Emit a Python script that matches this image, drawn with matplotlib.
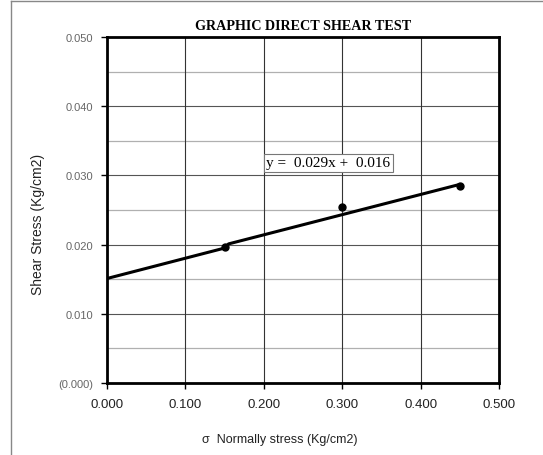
import matplotlib
matplotlib.use('Agg')
import matplotlib.pyplot as plt
from matplotlib.lines import Line2D
from matplotlib.ticker import MultipleLocator, FuncFormatter

# measured points
normal_stress = [0.15, 0.30, 0.45]
shear_stress = [0.0197, 0.0255, 0.0284]

# drawn line (with the small jog near the first point)
line_x = [0.0, 0.150, 0.155, 0.45]
line_y = [0.0151, 0.0195, 0.0201, 0.0287]

equation = 'y =  0.029x +  0.016'

fig = plt.figure(figsize=(5.43, 4.56), dpi=100)
ax = fig.add_axes([107/543, 1 - 384/456, 392/543, 346/456])

# grid
for yv in [0.005, 0.015, 0.025, 0.035, 0.045]:
    ax.axhline(yv, color='#b0b0b0', lw=0.9, zorder=1)
for yv in [0.01, 0.02, 0.03, 0.04]:
    ax.axhline(yv, color='#555555', lw=0.8, zorder=1)
for xv in [0.1, 0.2, 0.3, 0.4]:
    ax.axvline(xv, color='#333333', lw=0.8, zorder=1)

ax.plot(line_x, line_y, color='black', lw=2.2, zorder=3, solid_capstyle='round')
ax.plot(normal_stress, shear_stress, 'o', color='black', ms=5, zorder=4)

ax.set_xlim(0, 0.5)
ax.set_ylim(0, 0.05)
ax.xaxis.set_major_locator(MultipleLocator(0.1))
ax.yaxis.set_major_locator(MultipleLocator(0.01))
ax.xaxis.set_major_formatter(FuncFormatter(lambda v, p: '%.3f' % v))
ax.yaxis.set_major_formatter(FuncFormatter(lambda v, p: '(0.000)' if abs(v) < 1e-9 else '%.3f' % v))

for s in ax.spines.values():
    s.set_linewidth(2)
    s.set_color('black')

ax.tick_params(axis='y', direction='out', length=4, width=1, labelsize=8,
               labelcolor='#666666', pad=6)
ax.tick_params(axis='x', direction='out', length=4, width=1, labelsize=9.5,
               labelcolor='#222222', pad=7)
for lab in ax.get_xticklabels() + ax.get_yticklabels():
    lab.set_family('Liberation Sans')

ax.text(0.203, 0.0318, equation, family='Liberation Serif', fontsize=11,
        ha='left', va='center', zorder=5,
        bbox=dict(boxstyle='square,pad=0.15', fc='white', ec='#777777', lw=0.8))

fig.text(303/543, 1 - 27/456, 'GRAPHIC DIRECT SHEAR TEST', family='Liberation Serif',
         fontweight='bold', fontsize=10.2, ha='center', va='center')
fig.text(38/543, 1 - 224/456, 'Shear Stress (Kg/cm2)', family='Liberation Sans',
         fontsize=10, rotation=90, ha='center', va='center', color='#222222')
fig.text(280/543, 1 - 440/456, 'σ  Normally stress (Kg/cm2)', family='Liberation Sans',
         fontsize=9, ha='center', va='center', color='#222222')

# outer chart frame (cropped on right/bottom)
fig.add_artist(Line2D([11/543, 11/543], [0, 1 - 2/456], color='#888888', lw=1))
fig.add_artist(Line2D([11/543, 1], [1 - 2/456, 1 - 2/456], color='#888888', lw=1))

fig.savefig('out.png', dpi=100)
